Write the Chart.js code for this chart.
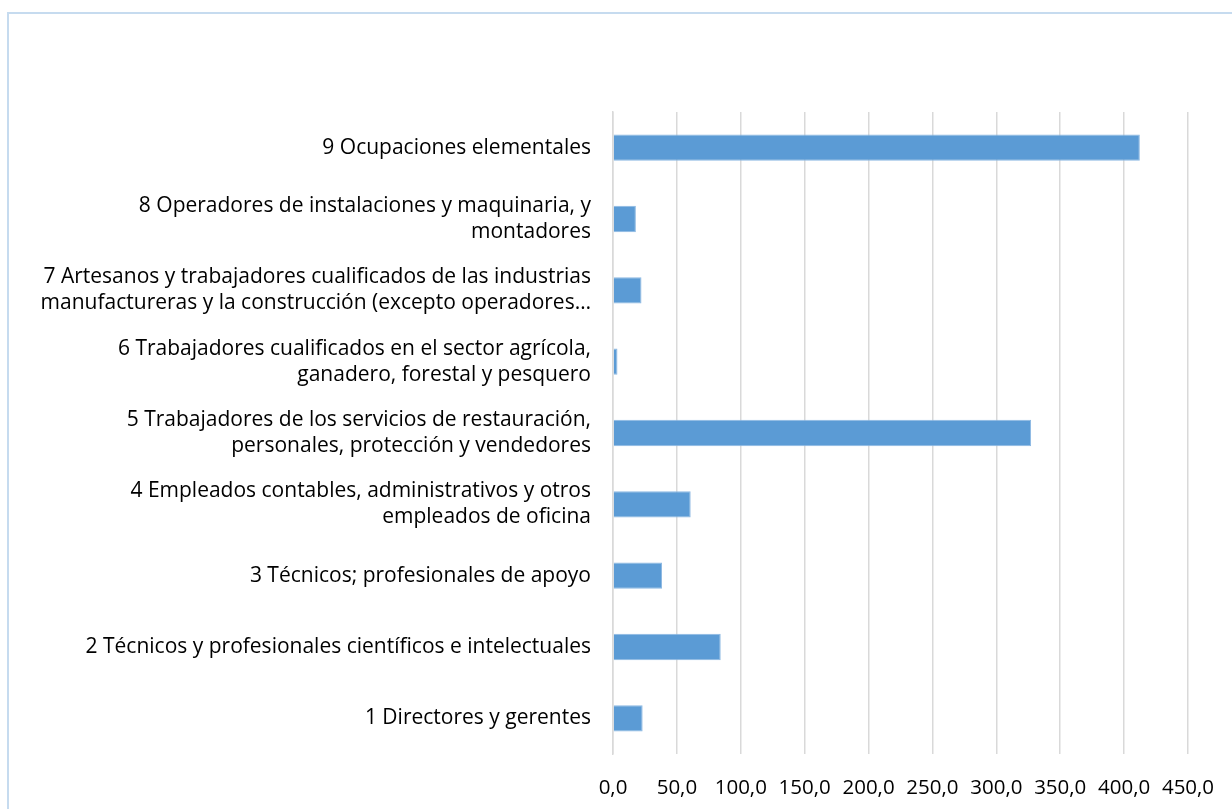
<!DOCTYPE html>
<html>
<head>
<meta charset="utf-8">
<script src="https://cdn.jsdelivr.net/npm/chart.js@4/dist/chart.umd.min.js"></script>
<style>
  html, body { margin: 0; padding: 0; background: #fff; overflow: hidden; }
  #wrap { position: relative; width: 1232px; height: 809px; }
  #frame {
    position: absolute; left: 7px; top: 12px; width: 1260px; height: 840px;
    border-left: 2px solid #c6dbef; border-top: 2px solid #c6dbef;
  }
  #mycanvas { position: absolute; left: 0; top: 0; }
</style>
</head>
<body>
<div id="wrap">
  <div id="frame"></div>
  <canvas id="mycanvas" width="1232" height="809"></canvas>
</div>
<script>
// categories, top to bottom as in the picture
var categories = [
  ['9 Ocupaciones elementales'],
  ['8 Operadores de instalaciones y maquinaria, y', 'montadores'],
  ['7 Artesanos y trabajadores cualificados de las industrias', 'manufactureras y la construcción (excepto operadores…'],
  ['6 Trabajadores cualificados en el sector agrícola,', 'ganadero, forestal y pesquero'],
  ['5 Trabajadores de los servicios de restauración,', 'personales, protección y vendedores'],
  ['4 Empleados contables, administrativos y otros', 'empleados de oficina'],
  ['3 Técnicos; profesionales de apoyo'],
  ['2 Técnicos y profesionales científicos e intelectuales'],
  ['1 Directores y gerentes']
];
var values = [412.3, 17.9, 22.3, 3.5, 327.2, 60.8, 38.4, 84.3, 23.2];
var xTickLabels = ['0,0', '50,0', '100,0', '150,0', '200,0', '250,0', '300,0', '350,0', '400,0', '450,0'];

var ctx = document.getElementById('mycanvas');
var barGraph = new Chart(ctx, {
  type: 'bar',
  data: {
    labels: categories,
    datasets: [{
      label: 'Ocupados',
      data: values,
      backgroundColor: '#5b9bd5',
      borderColor: '#8cb8e2',
      borderWidth: 1,
      barPercentage: 0.37,
      categoryPercentage: 1
    }]
  },
  options: {
    indexAxis: 'y',
    responsive: false,
    animation: false,
    events: [],
    layout: { padding: { top: 112, right: 44, left: 0, bottom: 0 } },
    plugins: { legend: { display: false }, tooltip: { enabled: false } },
    scales: {
      x: {
        min: 0, max: 450,
        ticks: {
          stepSize: 50,
          padding: 22,
          color: '#000',
          font: { family: 'Open Sans', size: 20.5 },
          maxRotation: 0,
          callback: function(v, i) { return xTickLabels[i]; }
        },
        grid: { color: '#d9d9d9', lineWidth: 1.5, drawTicks: false },
        border: { display: false },
        afterFit: function(s) {
          s.height = 55;
          s.paddingLeft = 0;
          s.paddingRight = 0;
        }
      },
      y: {
        ticks: {
          padding: 22,
          color: '#000',
          font: { family: 'Open Sans', size: 21, lineHeight: 1.24 },
          autoSkip: false
        },
        grid: { display: false, drawTicks: false },
        border: { display: true, color: '#d9d9d9', width: 1.5 },
        afterFit: function(s) { s.width = 613; }
      }
    }
  }
});
</script>
</body>
</html>
